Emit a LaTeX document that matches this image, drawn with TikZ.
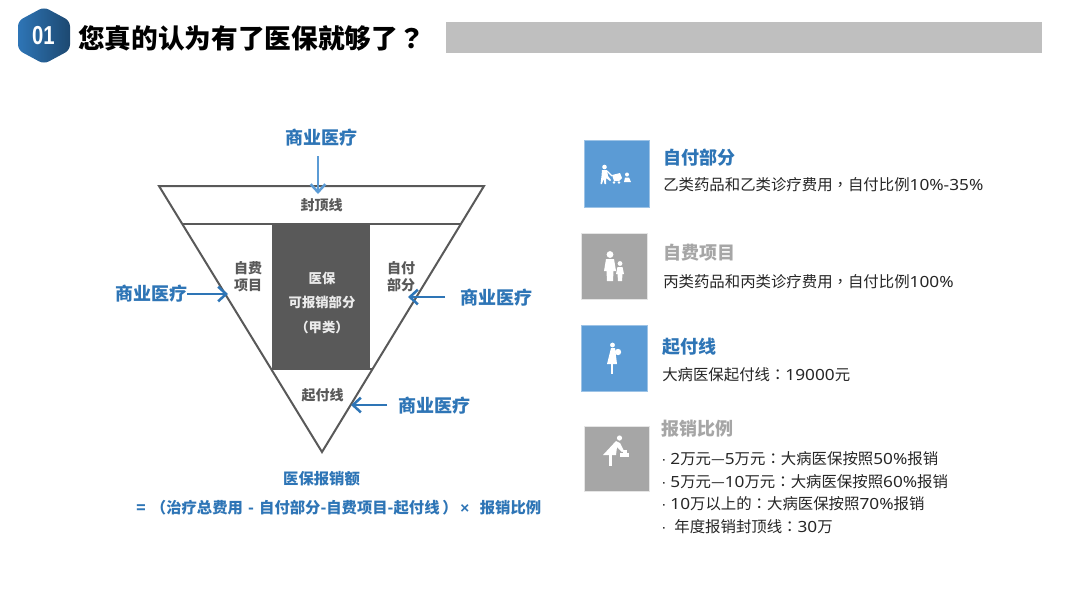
\documentclass[tikz,border=0pt]{standalone}
\usepackage{fontspec}
\setmainfont{Noto Sans CJK SC}
\newfontfamily\numfont{Liberation Sans}
\newfontfamily\tcf{Noto Sans CJK TC}
\newfontfamily\latf[FakeStretch=1.12]{Noto Sans}
\newcommand{\tcp}[1]{{\tcf #1}}
\newcommand{\lat}[1]{{\latf #1}}
\usetikzlibrary{calc,arrows.meta,shadings}
\definecolor{bluet}{HTML}{2E75B6}
\definecolor{bluef}{HTML}{5B9BD5}
\definecolor{grayf}{HTML}{A6A6A6}
\definecolor{darkf}{HTML}{595959}
\definecolor{linec}{HTML}{595959}
\tikzset{
  px/.style={x=0.75pt,y=-0.75pt},
  sell/.style={font=\bfseries\fontsize{13.5}{16}\selectfont,text=bluet,inner sep=0pt},
  small/.style={font=\bfseries\fontsize{10.5}{12.75}\selectfont,text=darkf,inner sep=0pt,align=center},
  wtext/.style={font=\bfseries\fontsize{10}{17}\selectfont,text=white!92!black,inner sep=0pt,align=center},
  formula/.style={font=\bfseries\fontsize{11.5}{14}\selectfont,text=bluet,inner sep=0pt},
  ttl/.style={font=\bfseries\fontsize{13.5}{16}\selectfont,anchor=west,inner sep=0pt},
  bodyt/.style={font=\fontsize{11.55}{14}\selectfont,text=black!85,anchor=west,inner sep=0pt},
  arr/.style={line width=2pt,draw=bluet,-{Straight Barb[length=6pt,width=11pt,line width=1.9pt]}},
  tri/.style={line width=1.5pt,draw=linec,line join=miter},
  icon/.style={fill=white,draw=none},
  boxb/.style={fill=bluef,draw=bluef!60!white,line width=0.4pt},
  boxg/.style={fill=grayf,draw=black!10,line width=0.4pt},
}
\begin{document}
\begin{tikzpicture}[px]
\useasboundingbox (0,0) rectangle (1080,608);
\fill[white] (0,0) rectangle (1080,608);
% header
\shade[left color=bluet,right color=bluet!62!black,rounded corners=4pt]
  (44,7) -- (70,21) -- (70,50) -- (44,64) -- (18,50) -- (18,21) -- cycle;
\node[inner sep=0pt,text=white,font=\numfont\bfseries\fontsize{19.5}{20}\selectfont,xscale=0.78] (num) at (43.5,36) {01};
\node[inner sep=0pt,anchor=west,font=\bfseries\fontsize{20}{24}\selectfont,text=black] (title) at (78,38) {您真的认为有了医保就够了\tcp{？}};
\fill[black!25] (446,22) rectangle (1042,53);
% triangle
\coordinate (tl) at (159,186);
\coordinate (tr) at (484,186);
\coordinate (ap) at (322,452);
\fill[darkf] (272,224) rectangle (370,369);
\draw[tri] ($(tl)!0.1429!(ap)$) -- ($(tr)!0.1429!(ap)$);
\draw[tri] ($(tl)!0.688!(ap)$) -- ($(tr)!0.688!(ap)$);
\draw[tri] (tl) -- (tr) -- (ap) -- cycle;
\node[small] (cap) at (321.5,205.5) {封顶线};
\node[small] (selfp) at (248,277) {自费\\项目};
\node[small] (selfq) at (401,276.5) {自付\\部分};
\node[small] (ded) at (322.5,395) {起付线};
\node[wtext] (m1) at (322,278) {医保};
\node[wtext] (m2) at (322,302) {可报销部分};
\node[wtext] (m3) at (322,327) {\tcp{（}甲类\tcp{）}};
% commercial labels and arrows
\node[sell] (s1) at (321,138) {商业医疗};
\node[sell] (s2) at (151,294) {商业医疗};
\node[sell] (s3) at (496,298) {商业医疗};
\node[sell] (s4) at (434,406) {商业医疗};
\coordinate (a1) at (318,194);
\coordinate (a2) at (228,294);
\coordinate (a3) at (408,297);
\coordinate (a4) at (351,405);
\coordinate (b1) at (318,156);
\coordinate (b3) at (445,297);
\coordinate (b4) at (387,405);
\draw[arr,draw=bluef] (b1) -- (a1);
\draw[arr] (s2.east |- a2) -- (a2);
\draw[arr] (b3) -- (a3);
\draw[arr] (b4) -- (a4);
\node[formula] (f1) at (321.5,479) {医保报销额};
\node[formula,anchor=west] (f2) at (136,508) {=\hspace{4pt}\tcp{（}治疗总费用\hspace{3.9pt}-\hspace{3.9pt}自付部分-自费项目-起付线\hspace{2pt}\tcp{）}\hspace{2pt}{\numfont ×}\hspace{8pt}报销比例};
% right column
\draw[boxb] (584,140) rectangle (649,207);
\draw[boxg] (581,233) rectangle (647,299);
\draw[boxb] (581,325) rectangle (647,391);
\draw[boxg] (584,426) rectangle (649,491);
\node[ttl,text=bluet] (t1) at (663,158) {自付部分};
\node[bodyt] (d1) at (663,185) {乙类药品和乙类诊疗费用\tcp{，}自付比例\lat{10\%-35\%}};
\node[ttl,text=grayf] (t2) at (663,253) {自费项目};
\node[bodyt] (d2) at (663,282) {丙类药品和丙类诊疗费用\tcp{，}自付比例\lat{100\%}};
\node[ttl,text=bluet] (t3) at (662,347) {起付线};
\node[bodyt] (d3) at (662,375) {大病医保起付线\tcp{：}\lat{19000}元};
\node[ttl,text=grayf] (t4) at (661,429) {报销比例};
\node[bodyt] (l1) at (661,459) {{\numfont·}\hspace{3pt}\lat{2}万元\tcp{—}\lat{5}万元\tcp{：}大病医保按照\lat{50\%}报销};
\node[bodyt] (l2) at (661,482) {{\numfont·}\hspace{3pt}\lat{5}万元\tcp{—}\lat{10}万元\tcp{：}大病医保按照\lat{60\%}报销};
\node[bodyt] (l3) at (661,504) {{\numfont·}\hspace{3pt}\lat{10}万以上的\tcp{：}大病医保按照\lat{70\%}报销};
\node[bodyt] (l4) at (661,527) {{\numfont·}\hspace{6pt}年度报销封顶线\tcp{：}\lat{30}万};
% icon 1: walker, stroller, child
\fill[icon] (604.5,167) circle (2.3);
\fill[icon] (602,170) -- (607,170) -- (608,176) -- (611,180) -- (610,181) -- (606,178) -- (606,184) -- (604.5,184) -- (603.5,179) -- (602,184) -- (600.5,184) -- (601.5,176) -- cycle;
\draw[white,line width=1pt] (607,171) -- (612,176);
\fill[icon] (612,175) -- (620,173) -- (622,178) -- (619,181) -- (614,181) -- cycle;
\fill[icon] (614,182.5) circle (1.4) (619,182.5) circle (1.4);
\fill[icon] (627,174.5) circle (2);
\fill[icon] (624,182) -- (625,177.5) -- (629,177.5) -- (631,182) -- cycle;
% icon 2: adult and child
\fill[icon] (610,254.5) circle (3.4);
\fill[icon] (606,259) -- (614,259) -- (616,271) -- (613.5,271) -- (613,281) -- (607,281) -- (606.5,271) -- (604,271) -- cycle;
\fill[icon] (620,263.5) circle (2.4);
\fill[icon] (617.5,267) -- (622.5,267) -- (624,274) -- (622.5,274) -- (622,281) -- (618,281) -- (617.5,274) -- (616,274) -- cycle;
% icon 3: bride with bouquet
\fill[icon] (612.5,345) circle (2.4);
\fill[icon] (611,348) -- (615,348) -- (617,364) -- (607,364) -- cycle;
\fill[icon] (611.3,364) rectangle (613,373.5);
\fill[icon] (618,352) circle (3.2);
% icon 4: parent at changing table
\fill[icon] (619.5,438) circle (2.6);
\fill[icon] (616,441) -- (620,443) -- (624,451) -- (622,452) -- (617,447) -- (616,455) -- (603,455) -- cycle;
\fill[icon] (609,455) rectangle (611.5,466);
\fill[icon] (620,453) rectangle (628.5,457);
\fill[icon] (623,449.5) rectangle (627,453);
\end{tikzpicture}
\end{document}
